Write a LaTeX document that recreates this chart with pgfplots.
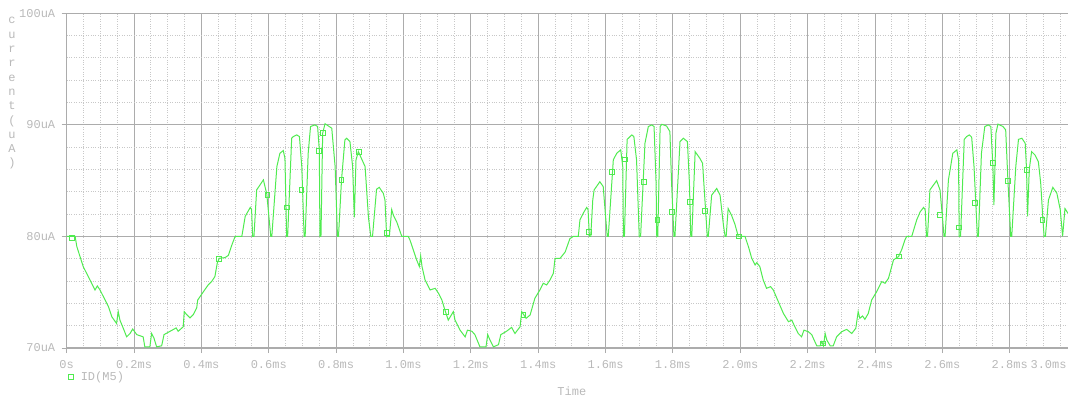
\documentclass[border=0pt]{standalone}
\usepackage{pgfplots}
\pgfplotsset{compat=1.18}
\usepackage{fontspec}
\setmainfont{Liberation Mono}
\definecolor{trace}{RGB}{80,235,80}
\definecolor{txt}{RGB}{185,185,185}
\definecolor{majgrid}{RGB}{172,172,172}
\definecolor{mingrid}{RGB}{200,200,200}

\pgfplotstableread{
t I
0.000 80.0
0.005 80.0
0.025 80.0
0.030 79.1
0.049 77.3
0.069 76.1
0.084 75.2
0.091 75.56
0.099 75.2
0.114 74.3
0.124 73.7
0.134 72.8
0.148 72.2
0.153 73.26
0.158 72.5
0.168 71.77
0.178 71.0
0.188 71.3
0.196 71.7
0.208 71.2
0.227 71.0
0.232 70.1
0.247 70.1
0.252 71.3
0.259 70.9
0.267 70.1
0.282 70.2
0.289 71.2
0.307 71.5
0.325 71.8
0.331 71.5
0.346 71.9
0.349 73.26
0.356 73.0
0.366 72.7
0.376 73.0
0.386 73.6
0.389 74.3
0.406 75.05
0.420 75.65
0.430 75.95
0.440 76.4
0.447 77.6
0.453 78.04
0.470 78.1
0.480 78.3
0.490 79.2
0.500 80.0
0.520 80.0
0.530 81.8
0.545 82.6
0.549 82.4
0.552 80.0
0.556 80.0
0.564 84.17
0.584 85.07
0.594 83.81
0.606 80.0
0.609 80.0
0.624 86.26
0.633 87.45
0.643 87.7
0.648 87.0
0.653 80.0
0.656 80.0
0.668 88.8
0.673 88.95
0.683 89.1
0.691 88.95
0.698 86.26
0.705 80.0
0.708 80.0
0.717 87.45
0.724 89.85
0.737 90.0
0.745 89.85
0.750 87.76
0.752 80.0
0.755 80.0
0.760 89.25
0.767 90.1
0.777 89.9
0.787 89.7
0.797 86.26
0.804 80.0
0.807 80.0
0.816 85.07
0.826 88.65
0.831 88.8
0.841 88.5
0.849 86.26
0.854 81.7
0.859 86.86
0.866 87.6
0.886 86.26
0.896 81.7
0.903 80.0
0.908 80.0
0.920 84.23
0.928 84.4
0.940 83.87
0.945 83.27
0.950 80.0
0.958 80.0
0.965 82.4
0.970 81.9
0.980 81.3
0.995 80.0
1.014 80.0
1.019 79.7
1.029 78.8
1.039 77.9
1.047 77.3
1.051 78.25
1.055 77.3
1.064 76.1
1.079 75.2
1.094 75.35
1.104 74.9
1.114 74.3
1.123 73.4
1.133 72.5
1.148 73.26
1.153 72.5
1.168 71.6
1.183 71.0
1.190 71.6
1.203 71.5
1.212 71.2
1.227 70.1
1.245 70.1
1.250 71.2
1.257 70.7
1.267 70.1
1.282 70.3
1.289 71.2
1.306 71.5
1.321 71.85
1.331 71.3
1.346 71.9
1.351 73.26
1.364 72.66
1.376 72.96
1.390 74.45
1.405 75.2
1.415 75.8
1.425 75.65
1.435 76.1
1.445 76.7
1.450 78.04
1.465 78.04
1.480 78.6
1.494 79.8
1.504 80.0
1.519 80.0
1.524 81.5
1.534 82.1
1.544 82.6
1.548 82.4
1.552 80.0
1.556 80.0
1.562 83.27
1.566 84.17
1.583 84.9
1.593 84.47
1.600 81.8
1.605 80.0
1.608 80.0
1.623 86.86
1.633 87.45
1.645 87.76
1.651 86.26
1.653 80.0
1.656 80.0
1.664 88.7
1.678 89.1
1.684 88.95
1.692 86.86
1.700 80.0
1.704 80.0
1.717 88.35
1.727 89.85
1.737 90.0
1.744 89.85
1.750 84.77
1.752 80.0
1.755 80.0
1.762 89.85
1.767 90.05
1.781 89.9
1.791 89.4
1.796 84.77
1.803 80.0
1.806 80.0
1.821 88.5
1.831 88.8
1.843 88.5
1.849 84.77
1.853 80.0
1.856 80.0
1.866 87.6
1.880 87.0
1.888 86.56
1.895 83.27
1.902 80.0
1.905 80.0
1.915 83.7
1.930 84.3
1.940 83.7
1.950 81.0
1.955 80.0
1.958 80.0
1.964 82.5
1.974 81.9
1.984 81.1
1.994 80.0
2.014 80.0
2.024 79.1
2.034 78.04
2.044 77.44
2.049 77.65
2.058 77.3
2.068 76.1
2.078 75.35
2.090 75.5
2.098 75.2
2.113 74.15
2.128 73.1
2.143 72.36
2.153 72.5
2.162 71.9
2.172 71.3
2.182 71.0
2.189 71.6
2.202 71.46
2.212 71.2
2.227 70.2
2.237 70.2
2.242 70.57
2.247 70.2
2.252 71.3
2.257 70.7
2.267 70.2
2.276 70.2
2.286 71.0
2.301 71.46
2.316 71.67
2.331 71.3
2.343 71.77
2.350 73.26
2.355 72.66
2.363 72.87
2.370 72.57
2.380 73.1
2.390 74.3
2.405 75.05
2.420 75.95
2.430 75.8
2.440 76.25
2.455 77.9
2.470 78.2
2.479 78.8
2.489 79.7
2.494 80.0
2.509 80.0
2.524 81.5
2.534 82.2
2.544 82.6
2.549 82.4
2.553 80.0
2.556 80.0
2.563 84.17
2.583 85.0
2.593 84.17
2.600 81.8
2.605 80.0
2.608 80.0
2.618 85.07
2.631 87.45
2.643 87.76
2.648 86.86
2.650 80.0
2.654 80.0
2.665 88.7
2.672 88.95
2.680 89.1
2.687 88.9
2.694 86.26
2.704 80.0
2.707 80.0
2.716 87.45
2.726 89.85
2.736 90.0
2.744 89.85
2.750 86.26
2.753 82.8
2.759 89.25
2.765 90.07
2.780 89.85
2.788 89.55
2.795 84.77
2.803 80.0
2.806 80.0
2.818 86.26
2.826 88.7
2.836 88.8
2.846 88.35
2.850 85.97
2.853 81.8
2.858 86.0
2.865 87.6
2.875 87.3
2.885 86.7
2.892 84.77
2.898 81.8
2.902 80.0
2.906 80.0
2.915 83.27
2.928 84.4
2.940 83.87
2.950 82.4
2.957 80.0
2.964 82.5
2.973 82.07
2.985 81.5
}\tracedata

\pgfplotstableread{
t I
0.016 79.85
0.451 77.95
0.596 83.7
0.655 82.6
0.697 84.17
0.750 87.67
0.762 89.3
0.816 85.07
0.868 87.55
0.952 80.3
1.126 73.26
1.356 72.96
1.551 80.4
1.620 85.76
1.658 86.9
1.715 84.9
1.754 81.5
1.798 82.2
1.851 83.1
1.896 82.3
1.995 80.0
2.245 70.4
2.470 78.2
2.594 81.9
2.650 80.8
2.696 83.0
2.750 86.56
2.794 85.0
2.850 85.97
2.897 81.5
}\markdata

\begin{document}
\begin{tikzpicture}
\begin{axis}[
  at={(0pt,0pt)}, anchor=south west,
  scale only axis, width=1010.4pt, height=334.7pt,
  xmin=0, xmax=3, ymin=70, ymax=100,
  xtick={0,0.2,0.4,0.6,0.8,1.0,1.2,1.4,1.6,1.8,2.0,2.2,2.4,2.6,2.8,3.0},
  xticklabels={0s,0.2ms,0.4ms,0.6ms,0.8ms,1.0ms,1.2ms,1.4ms,1.6ms,1.8ms,2.0ms,2.2ms,2.4ms,2.6ms,2.8ms,{\makebox[0pt][r]{3.0ms\hspace*{10.5pt}}}},
  ytick={70,80,90,100},
  yticklabels={70uA,80uA,90uA,100uA},
  minor xtick={0.05,0.1,0.15,0.25,0.3,0.35,0.45,0.5,0.55,0.65,0.7,0.75,0.85,0.9,0.95,1.05,1.1,1.15,1.25,1.3,1.35,1.45,1.5,1.55,1.65,1.7,1.75,1.85,1.9,1.95,2.05,2.1,2.15,2.25,2.3,2.35,2.45,2.5,2.55,2.65,2.7,2.75,2.85,2.9,2.95},
  minor ytick={72,74,76,78,82,84,86,88,92,94,96,98},
  grid=both,
  major grid style={solid, majgrid, line width=0.9pt},
  minor grid style={dotted, mingrid, line width=0.9pt},
  axis line style={majgrid, line width=1.2pt},
  tick align=outside, xtick pos=bottom, ytick pos=left,
  major tick length=5pt, minor tick length=0pt,
  tick style={majgrid, line width=1pt},
  /pgf/number format/assume math mode=true,
  ticklabel style={font=\fontsize{12}{14}\selectfont, text=txt},
  xticklabel style={anchor=center, yshift=-12pt},
  yticklabel style={anchor=east, xshift=-3pt},
  xlabel={Time},
  xlabel style={font=\fontsize{12}{14}\selectfont, text=txt, at={(rel axis cs:0.5,0)}, anchor=center, yshift=-43pt},
  legend style={draw=none, fill=none, at={(rel axis cs:0,0)}, anchor=west, yshift=-29pt, xshift=1pt, font=\fontsize{12}{14}\selectfont, text=txt, inner sep=0pt, nodes={inner sep=2pt}, /tikz/every odd column/.append style={column sep=5pt}},
  legend image code/.code={\draw[trace, line width=0.9pt] (0pt,-2.5pt) rectangle (5pt,2.5pt);},
]
\addplot[trace, line width=1pt, forget plot] table[x=t, y=I] {\tracedata};
\addplot[only marks, mark=square, mark size=2.4pt, trace, mark options={line width=0.9pt}] table[x=t, y=I] {\markdata};
\addlegendentry{ID(M5)}
\end{axis}
\node[text=txt, align=center, font=\fontsize{12}{14.3}\selectfont] at (-54.7pt,254.5pt) {c\\u\\r\\r\\e\\n\\t\\(\\u\\A\\)};
\pgfresetboundingbox
\useasboundingbox (-66.7pt,-51pt) rectangle (1001.3pt,348pt);
\end{tikzpicture}
\end{document}
